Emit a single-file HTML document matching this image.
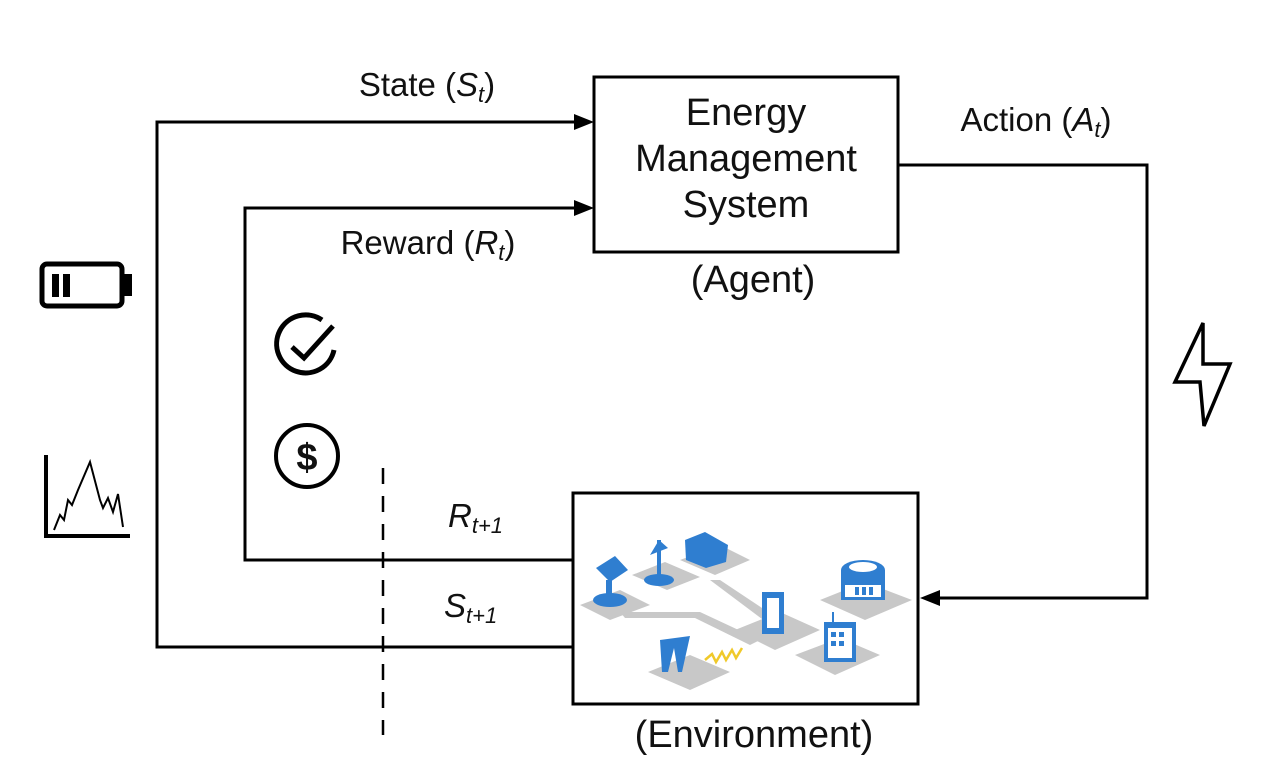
<!DOCTYPE html>
<html><head><meta charset="utf-8"><style>
html,body{margin:0;padding:0;background:#fff;}
svg{display:block;}
text{font-family:"Liberation Sans",Arial,sans-serif;fill:#111;}
</style></head><body>
<svg width="1282" height="782" viewBox="0 0 1282 782" xmlns="http://www.w3.org/2000/svg">
<g fill="none" stroke="#000" stroke-width="3">
<rect x="594" y="77" width="304" height="175"/>
<rect x="573" y="493" width="345" height="211"/>
<polyline points="573,647 157,647 157,122 578,122"/>
<polyline points="573,560 245,560 245,208 578,208"/>
<polyline points="898,165 1147,165 1147,598 936,598"/>
<line x1="383" y1="468" x2="383" y2="735" stroke-width="2.5" stroke-dasharray="16,12"/>
</g>
<polygon points="594,122 574,114 574,130" fill="#000"/>
<polygon points="594,208 574,200 574,216" fill="#000"/>
<polygon points="920,598 940,590 940,606" fill="#000"/>

<text x="427" y="96" font-size="33" text-anchor="middle">State (<tspan font-style="italic">S</tspan><tspan font-style="italic" font-size="22" dy="6">t</tspan><tspan dy="-6">)</tspan></text>
<text x="746" y="125" font-size="38" text-anchor="middle">Energy</text>
<text x="746" y="171" font-size="38" text-anchor="middle">Management</text>
<text x="746" y="217" font-size="38" text-anchor="middle">System</text>
<text x="753" y="292" font-size="38" text-anchor="middle">(Agent)</text>
<text x="1036" y="131" font-size="33" text-anchor="middle">Action (<tspan font-style="italic">A</tspan><tspan font-style="italic" font-size="22" dy="6">t</tspan><tspan dy="-6">)</tspan></text>
<text x="428" y="254" font-size="33" text-anchor="middle">Reward (<tspan font-style="italic">R</tspan><tspan font-style="italic" font-size="22" dy="6">t</tspan><tspan dy="-6">)</tspan></text>
<text x="448" y="527" font-size="33" font-style="italic">R<tspan font-size="22" dy="6">t+1</tspan></text>
<text x="444" y="617" font-size="33" font-style="italic">S<tspan font-size="22" dy="6">t+1</tspan></text>
<text x="754" y="747" font-size="38" text-anchor="middle">(Environment)</text>

<rect x="42" y="264" width="80" height="42" rx="5" fill="none" stroke="#000" stroke-width="5"/>
<rect x="124" y="274" width="8" height="22" fill="#000"/>
<rect x="52" y="274" width="7" height="23" fill="#000"/>
<rect x="63" y="274" width="7" height="23" fill="#000"/>
<polyline points="46,455 46,536 130,536" fill="none" stroke="#000" stroke-width="4"/>
<polyline points="54,530 60,515 64,520 68,500 72,505 78,490 90,462 100,500 103,508 108,498 113,512 118,494 123,527" fill="none" stroke="#000" stroke-width="2"/>
<path d="M 322 320 A 29 29 0 1 0 334 350" fill="none" stroke="#000" stroke-width="5"/>
<polyline points="292,347 304,358 333,326" fill="none" stroke="#000" stroke-width="5"/>
<circle cx="307" cy="456" r="31" fill="none" stroke="#000" stroke-width="4"/>
<text x="307" y="470" font-size="38" font-weight="bold" text-anchor="middle">$</text>
<polygon points="1203,323 1175,382 1200,382 1204,426 1230,364 1203,364" fill="none" stroke="#000" stroke-width="3.5"/>

<g>
<g fill="#c8c8c8">
<polygon points="580,605 620,590 650,605 610,620"/>
<polygon points="632,575 665,562 700,577 667,590"/>
<polygon points="680,560 720,545 750,560 715,575"/>
<polygon points="735,630 780,612 820,630 775,650"/>
<polygon points="820,600 865,582 912,600 865,620"/>
<polygon points="795,655 840,638 880,655 835,675"/>
<polygon points="648,672 690,655 730,672 690,690"/>
<polygon points="620,612 700,612 760,640 750,645 695,618 625,618"/>
<polygon points="710,580 720,580 780,620 770,625"/>
</g>
<g fill="#2f7ed0">
<polygon points="596,568 615,556 628,570 610,582"/>
<rect x="606" y="580" width="6" height="16"/>
<ellipse cx="610" cy="600" rx="17" ry="7"/>
<rect x="657" y="540" width="4" height="38"/>
<polygon points="659,540 650,555 668,548"/>
<ellipse cx="659" cy="580" rx="15" ry="6"/>
<polygon points="685,540 705,532 728,545 726,562 706,568 686,560"/>
<rect x="762" y="592" width="22" height="42"/>
<ellipse cx="863" cy="570" rx="22" ry="10"/>
<rect x="841" y="570" width="44" height="30"/>
<rect x="824" y="622" width="32" height="40"/>
<rect x="832" y="612" width="2" height="10"/>
<polygon points="660,640 690,636 682,672 678,672 674,648 668,672 662,672"/>
</g>
<g fill="#fff">
<rect x="767" y="598" width="12" height="30"/>
<ellipse cx="863" cy="567" rx="14" ry="5"/>
<rect x="828" y="628" width="24" height="30"/>
<rect x="845" y="585" width="36" height="12"/>
</g>
<g fill="#2f7ed0"><rect x="831" y="632" width="5" height="5"/><rect x="839" y="632" width="5" height="5"/><rect x="831" y="641" width="5" height="5"/><rect x="839" y="641" width="5" height="5"/><rect x="855" y="587" width="4" height="8"/><rect x="862" y="587" width="4" height="8"/><rect x="869" y="587" width="4" height="8"/></g>
<polyline points="705,660 712,654 716,662 722,652 726,660 732,650 736,658 742,648" fill="none" stroke="#f0c92a" stroke-width="2.5"/>
</g>
</svg>
</body></html>
